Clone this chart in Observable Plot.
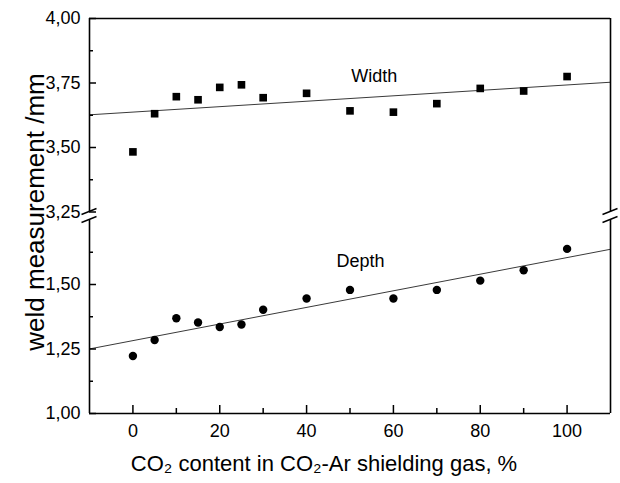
<!DOCTYPE html>
<html>
<head>
<meta charset="utf-8">
<script src="https://cdn.jsdelivr.net/npm/d3@7"></script>
<script src="https://cdn.jsdelivr.net/npm/@observablehq/plot@0.6"></script>
<style>
  html, body { margin: 0; padding: 0; background: #fff; }
  #chart svg { display: block; }
</style>
</head>
<body>
<div id="chart"></div>
<script>
// CO2 share of the CO2-Ar shielding gas, %
const co2 = [0, 5, 10, 15, 20, 25, 30, 40, 50, 60, 70, 80, 90, 100];
// Weld bead width, mm
const widthMm = [3.483, 3.631, 3.697, 3.685, 3.733, 3.743, 3.693, 3.710, 3.642, 3.637, 3.670, 3.729, 3.719, 3.775];
// Weld penetration depth, mm
const depthMm = [1.223, 1.285, 1.369, 1.353, 1.335, 1.345, 1.402, 1.446, 1.479, 1.446, 1.479, 1.515, 1.555, 1.638];

// Axis extents; the y axis is broken between the depth and width panels
const xDomain = [-10, 110];
const yLower = [1.00, 1.75];
const yUpper = [3.25, 4.00];
const xTicks = [0, 20, 40, 60, 80, 100];
const xMinorTicks = [10, 30, 50, 70, 90];
const yTicks = [1.00, 1.25, 1.50, 3.25, 3.50, 3.75, 4.00];
const yMinorTicks = [1.125, 1.375, 1.625, 3.375, 3.625, 3.875];
const seriesNames = ["Width", "Depth"];
const xLabel = "CO\u2082 content in CO\u2082-Ar shielding gas, %";
const yLabel = "weld measurement /mm";

const rows = co2.map((c, i) => ({co2: c, width: widthMm[i], depth: depthMm[i]}));

// Least-squares straight line through a series
function fit(xs, ys) {
  const mx = d3.mean(xs), my = d3.mean(ys);
  const slope = d3.sum(xs, (x, i) => (x - mx) * (ys[i] - my)) / d3.sum(xs, x => (x - mx) ** 2);
  return x => my + slope * (x - mx);
}
const fitWidth = fit(co2, widthMm);
const fitDepth = fit(co2, depthMm);
const fitRows = xDomain.map(x => ({x, width: fitWidth(x), depth: fitDepth(x)}));

// Frame segments: left/right sides of each panel
const sides = xDomain.flatMap(x => [yLower, yUpper].map(([y1, y2]) => ({x, y1, y2})));

const W = 620, H = 483;
const mL = 89, mR = 10, mT = 18, mB = 70;
const gapPx = 8;
const pxPerUnit = (H - mT - mB - gapPx) / ((yLower[1] - yLower[0]) + (yUpper[1] - yUpper[0]));

// Broken axis: the upper panel is slid down so it sits just above the lower one
const gapUnits = gapPx / pxPerUnit;
const shift = yUpper[0] - yLower[1] - gapUnits;
const compress = v => (v >= yUpper[0] ? v - shift : v);

const comma = d3.formatLocale({decimal: ",", thousands: " ", grouping: [3], currency: ["", ""]}).format(".2f");
const font = "Liberation Sans, Arial, sans-serif";

// Slanted double strokes marking the break on both vertical sides
function breakMarks(index, scales) {
  const g = d3.create("svg:g").attr("stroke", "black").attr("stroke-width", 1.5);
  const ys = [scales.y(compress(yUpper[0])), scales.y(compress(yLower[1]))];
  for (const xv of xDomain) {
    const cx = scales.x(xv);
    for (const cy of ys) {
      g.append("line")
        .attr("x1", cx - 7.5).attr("y1", cy + 3)
        .attr("x2", cx + 7.5).attr("y2", cy - 3);
    }
  }
  return g.node();
}

const chart = Plot.plot({
  width: W,
  height: H,
  marginLeft: mL,
  marginRight: mR,
  marginTop: mT,
  marginBottom: mB,
  style: {fontFamily: font, background: "white", color: "black"},
  x: {domain: xDomain, axis: null, label: null},
  y: {
    transform: compress,
    domain: [compress(yLower[0]), compress(yUpper[1])],
    axis: null,
    label: null
  },
  marks: [
    // fitted trend lines
    Plot.line(fitRows, {x: "x", y: "width", stroke: "#3a3a3a", strokeWidth: 1}),
    Plot.line(fitRows, {x: "x", y: "depth", stroke: "#3a3a3a", strokeWidth: 1}),
    // measurements
    Plot.dot(rows, {x: "co2", y: "width", symbol: "square", r: 4.3, fill: "black", stroke: null}),
    Plot.dot(rows, {x: "co2", y: "depth", symbol: "circle", r: 4.2, fill: "black", stroke: null}),
    // series names
    Plot.text([seriesNames[0]], {x: 55.6, y: 3.755, text: d => d, lineAnchor: "bottom", fontSize: 18}),
    Plot.text([seriesNames[1]], {x: 52.4, y: 1.566, text: d => d, lineAnchor: "bottom", fontSize: 18}),
    // frame
    Plot.ruleX(sides, {x: "x", y1: "y1", y2: "y2", strokeWidth: 1.6}),
    Plot.ruleY([yUpper[1]], {x1: xDomain[0], x2: xDomain[1], strokeWidth: 1.6}),
    Plot.ruleY([yLower[0]], {x1: xDomain[0], x2: xDomain[1], strokeWidth: 1.6}),
    // inward ticks
    Plot.axisY(yTicks, {anchor: "left", tickSize: -7, fill: "none", strokeWidth: 1.5, label: null}),
    Plot.axisY(yMinorTicks, {anchor: "left", tickSize: -4, fill: "none", strokeWidth: 1.5, label: null}),
    Plot.axisX(xTicks, {anchor: "bottom", tickSize: -8, fill: "none", strokeWidth: 1.5, label: null}),
    Plot.axisX(xMinorTicks, {anchor: "bottom", tickSize: -5, fill: "none", strokeWidth: 1.5, label: null}),
    // tick labels
    Plot.axisY(yTicks, {anchor: "left", tickSize: 0, tickPadding: 9, tickFormat: comma, fontSize: 18, label: null}),
    Plot.axisX(xTicks, {anchor: "bottom", tickSize: 0, tickPadding: 11, fontSize: 18, label: null}),
    // axis titles
    Plot.text([xLabel], {frameAnchor: "bottom", text: d => d, dx: -26, dy: 57, lineAnchor: "bottom", fontSize: 22}),
    Plot.text([yLabel], {frameAnchor: "left", text: d => d, rotate: -90, textAnchor: "middle", dx: -46, dy: -4, lineAnchor: "bottom", fontSize: 26}),
    breakMarks
  ]
});

document.getElementById("chart").appendChild(chart);
</script>
</body>
</html>
